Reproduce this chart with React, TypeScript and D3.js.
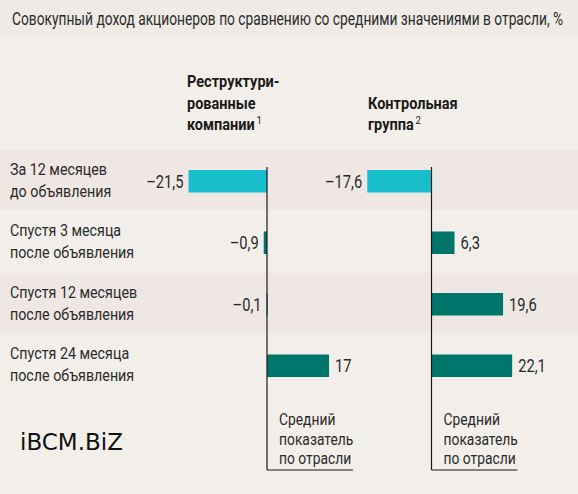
import React from "react";
import * as d3 from "d3";

const W = 578;
const H = 494;

const categories = [
  ["За 12 месяцев", "до объявления"],
  ["Спустя 3 месяца", "после объявления"],
  ["Спустя 12 месяцев", "после объявления"],
  ["Спустя 24 месяца", "после объявления"],
];
const restructured = [-21.5, -0.9, -0.1, 17];
const control = [-17.6, 6.3, 19.6, 22.1];
const restructuredLabels = ["–21,5", "–0,9", "–0,1", "17"];
const controlLabels = ["–17,6", "6,3", "19,6", "22,1"];
const panelTitles = [
  [["Реструктури-"], ["рованные"], ["компании", "1"]],
  [["Контрольная"], ["группа", "2"]],
];
const axisNote = ["Средний", "показатель", "по отрасли"];
const title = "Совокупный доход акционеров по сравнению со средними значениями в отрасли, %";

const FONT = "Roboto, 'Liberation Sans', sans-serif";
const CYAN = "#19bece";
const TEAL = "#00756a";
const TEXT = "#2b2b2b";
const SX = 0.84;

function T(props: any) {
  const { x, y, sx = SX, children, ...rest } = props;
  return (
    <text transform={`translate(${x},${y}) scale(${sx},1)`} fontFamily={FONT} fill={TEXT} {...rest}>
      {children}
    </text>
  );
}

export default function App() {
  const y = d3
    .scaleBand<number>()
    .domain(d3.range(categories.length))
    .range([150, 396])
    .paddingInner(0);
  const barH = 22.5;

  const panels = [
    { zero: 267, values: restructured, labels: restructuredLabels, title: panelTitles[0], titleX: 187, titleY0: 87 },
    { zero: 431.5, values: control, labels: controlLabels, title: panelTitles[1], titleX: 368, titleY0: 108.5 },
  ];
  const k = 3.65;

  return (
    <svg
      width={W}
      height={H}
      style={{ position: "absolute", left: 0, top: 0 }}
      xmlns="http://www.w3.org/2000/svg"
    >
      <rect x={0} y={0} width={W} height={H} fill="#f2efea" />
      <rect x={0} y={0} width={W} height={37} fill="#eeebe6" />
      {categories.map((_, i) =>
        i % 2 === 0 ? (
          <rect key={"band" + i} x={0} y={y(i)!} width={W} height={y.bandwidth() - 2} fill="#efe7e3" />
        ) : null
      )}
      <T x={12} y={25} fontSize={18} sx={0.765}>
        {title}
      </T>

      {categories.map((lines, i) => {
        const c = y(i)! + y.bandwidth() / 2;
        return (
          <g key={"cat" + i}>
            <T x={10} y={c - 6} fontSize={17}>{lines[0]}</T>
            <T x={10} y={c + 16} fontSize={17}>{lines[1]}</T>
          </g>
        );
      })}

      {panels.map((p, pi) => {
        const x = d3.scaleLinear().domain([-25, 25]).range([p.zero - 25 * k, p.zero + 25 * k]);
        return (
          <g key={"panel" + pi}>
            {p.title.map((ln, li) => (
              <T
                key={li}
                x={p.titleX}
                y={p.titleY0 + li * 21.5}
                fontSize={16.5}
                fontWeight="bold"
                fill="#1a1a1a"
                sx={0.88}
              >
                {ln[0]}
                {ln[1] ? (
                  <tspan fontSize={11} fontWeight="normal" dy={-6} dx={2}>
                    {ln[1]}
                  </tspan>
                ) : null}
              </T>
            ))}
            {p.values.map((v, i) => {
              const c = y(i)! + y.bandwidth() / 2 + 0.5;
              const x0 = x(Math.min(0, v));
              const x1 = x(Math.max(0, v));
              return (
                <g key={"bar" + i}>
                  <rect
                    x={x0}
                    y={c - barH / 2}
                    width={Math.max(x1 - x0, 1)}
                    height={barH}
                    fill={i === 0 ? CYAN : TEAL}
                  />
                  <T
                    x={v < 0 ? x0 - 5 : x1 + 6}
                    y={c + 6.5}
                    textAnchor={v < 0 ? "end" : "start"}
                    fontSize={17.5}
                  >
                    {p.labels[i]}
                  </T>
                </g>
              );
            })}
            <line x1={x(0)} x2={x(0)} y1={167} y2={470} stroke="#1a1a1a" strokeWidth={1.2} />
            <line x1={x(0)} x2={x(0) + 86} y1={470} y2={470} stroke="#1a1a1a" strokeWidth={1.2} />
            {axisNote.map((t, li) => (
              <T key={li} x={x(0) + 12} y={425 + li * 19.5} fontSize={16.5}>
                {t}
              </T>
            ))}
          </g>
        );
      })}

      <text x={20} y={450} fontFamily="'DejaVu Sans', sans-serif" fontSize={23} fill="#111">
        iBCM.BiZ
      </text>
    </svg>
  );
}
